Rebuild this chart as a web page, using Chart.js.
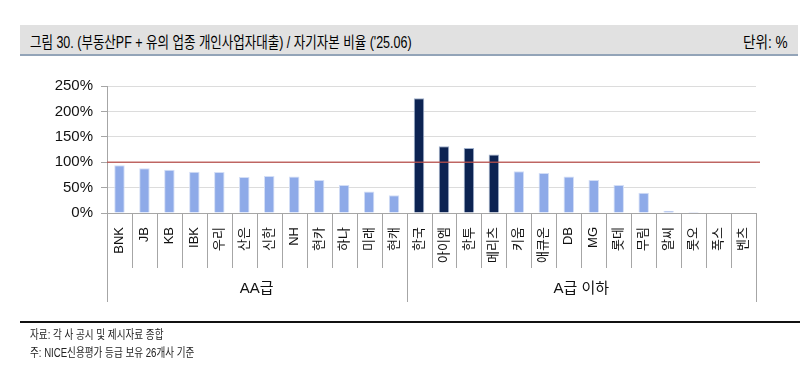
<!DOCTYPE html>
<html lang="ko">
<head>
    <meta charset="UTF-8">
    <title>부동산PF + 유의 업종 개인사업자대출 / 자기자본 비율</title>
    <script src="https://cdn.jsdelivr.net/npm/chart.js"></script>
    <style>
        body {
            margin: 0;
            width: 800px;
            height: 378px;
            position: relative;
            background: #fff;
            font-family: 'Liberation Sans', 'Noto Sans CJK KR', sans-serif;
            overflow: hidden;
        }
        .header {
            position: absolute;
            left: 20px; top: 25px;
            width: 778px; height: 29px;
            background: #e1e1e1;
            border-bottom: 2px solid #93a4b8;
        }
        .title, .unit {
            position: absolute;
            top: 4px;
            font-size: 16px;
            color: #000;
            white-space: nowrap;
        }
        .title { left: 10px; transform: scaleX(0.78); transform-origin: left; }
        .unit { right: 10px; transform: scaleX(0.85); transform-origin: right; }
        .rule {
            position: absolute;
            left: 20px; top: 321px;
            width: 780px; height: 2px;
            background: #111;
        }
        .note {
            position: absolute;
            left: 30px;
            font-size: 12px;
            color: #222;
            white-space: nowrap;
            transform: scaleX(0.8);
            transform-origin: left;
        }
        #wrap {
            position: absolute;
            left: 0; top: 0;
            width: 800px; height: 378px;
        }
    </style>
</head>
<body>
    <div class="header">
        <div class="title">그림 30. (부동산PF + 유의 업종 개인사업자대출) / 자기자본 비율 ('25.06)</div>
        <div class="unit">단위: %</div>
    </div>
    <div id="wrap"><canvas id="ratioChart"></canvas></div>
    <div class="rule"></div>
    <div class="note" style="top:325px;">자료: 각 사 공시 및 제시자료 종합</div>
    <div class="note" style="top:343px;">주: NICE신용평가 등급 보유 26개사 기준</div>

    <script>
        // 회사명 (x축)
        const companies = ['BNK', 'JB', 'KB', 'IBK', '우리', '산은', '신한', 'NH', '현카', '하나', '미래', '현캐',
                           '한국', '아이엠', '한투', '메리츠', '키움', '애큐온', 'DB', 'MG', '롯데', '무림', '알씨', '롯오', '폭스', '벤츠'];
        // 자기자본 대비 비율 (%)
        const ratios = [94, 88, 85, 81, 80.5, 71, 73, 72, 65, 55, 42.5, 34.7,
                        226, 131.5, 128, 115, 82, 78.5, 72, 65, 55, 40, 4.6, 2, 0, 0];
        // 등급 그룹
        const groupNames = ['AA급', 'A급 이하'];
        const groupSizes = [12, 14];
        const yTicks = [0, 50, 100, 150, 200, 250];
        const threshold = 100;

        const lightBlue = '#8eaae8';
        const navy = '#0c2352';
        const axisGray = '#a6a6a6';

        const boxPlugin = {
            id: 'boxPlugin',
            afterDraw(chart) {
                const ctx = chart.ctx;
                const area = chart.chartArea;
                const x = chart.scales.x;
                const y = chart.scales.y;
                const half = (x.getPixelForValue(1) - x.getPixelForValue(0)) / 2;
                const labelBottom = 268, groupBottom = 302;

                ctx.save();
                ctx.strokeStyle = axisGray;
                ctx.lineWidth = 1;
                // x축 선
                ctx.beginPath();
                ctx.moveTo(area.left, Math.round(area.bottom) + 0.5);
                ctx.lineTo(area.right, Math.round(area.bottom) + 0.5);
                ctx.stroke();

                // 카테고리 구분선
                let start = 0;
                groupSizes.forEach((n, g) => {
                    for (let i = start; i <= start + n; i++) {
                        const px = Math.round(x.getPixelForValue(i) - half) + 0.5;
                        const edge = (i === start || i === start + n);
                        ctx.beginPath();
                        ctx.moveTo(px, area.bottom);
                        ctx.lineTo(px, edge ? groupBottom : labelBottom);
                        ctx.stroke();
                    }
                    const cx = (x.getPixelForValue(start) + x.getPixelForValue(start + n - 1)) / 2;
                    ctx.fillStyle = '#111';
                    ctx.font = "15px 'Liberation Sans', 'Noto Sans CJK KR', sans-serif";
                    ctx.textAlign = 'center';
                    ctx.textBaseline = 'middle';
                    ctx.fillText(groupNames[g], cx, 289);
                    start += n;
                });

                // 100% 기준선
                const ly = y.getPixelForValue(threshold);
                ctx.strokeStyle = 'rgba(185, 80, 76, 0.85)';
                ctx.lineWidth = 1.5;
                ctx.beginPath();
                ctx.moveTo(area.left, ly);
                ctx.lineTo(area.right + 4, ly);
                ctx.stroke();
                ctx.restore();
            }
        };

        const chart = new Chart(document.getElementById('ratioChart'), {
            type: 'bar',
            data: {
                labels: companies,
                datasets: [{
                    data: ratios,
                    backgroundColor: ratios.map(v => v > threshold ? navy : lightBlue),
                    borderColor: ratios.map(v => v > threshold ? '#9fb0cc' : '#d3def6'),
                    borderWidth: 1,
                    barPercentage: 0.42,
                    categoryPercentage: 1
                }]
            },
            options: {
                responsive: true,
                maintainAspectRatio: false,
                animation: false,
                layout: { padding: { left: 0, top: 86, right: 44, bottom: 76 } },
                plugins: {
                    legend: { display: false },
                    tooltip: { enabled: false }
                },
                scales: {
                    x: {
                        grid: { display: false },
                        border: { display: false },
                        ticks: {
                            autoSkip: false,
                            maxRotation: 90,
                            minRotation: 90,
                            padding: 6,
                            color: '#111',
                            font: { size: 13, family: "'Liberation Sans', 'Noto Sans CJK KR', sans-serif" }
                        },
                        afterFit(scale) { scale.height = 89; }
                    },
                    y: {
                        min: 0,
                        max: 250,
                        afterBuildTicks(scale) { scale.ticks = yTicks.map(v => ({ value: v })); },
                        grid: { color: '#dcdcdc', tickColor: axisGray, tickLength: 6 },
                        border: { display: true, color: axisGray },
                        ticks: {
                            padding: 8,
                            color: '#111',
                            font: { size: 15, family: "'Liberation Sans', sans-serif" },
                            callback: v => v + '%'
                        },
                        afterFit(scale) { scale.width = 107; }
                    }
                }
            },
            plugins: [boxPlugin]
        });
    </script>
</body>
</html>
